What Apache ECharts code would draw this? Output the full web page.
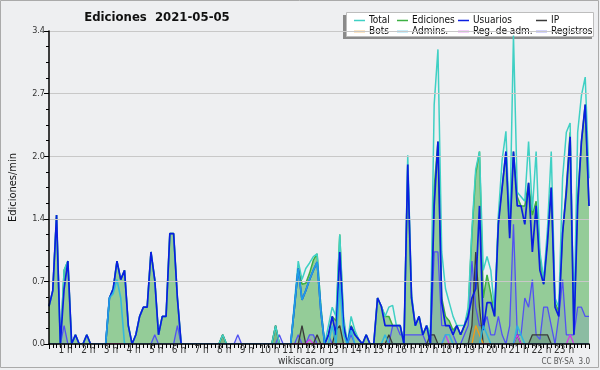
<!DOCTYPE html>
<html>
<head>
<meta charset="utf-8">
<script src="https://cdn.jsdelivr.net/npm/echarts@6/dist/echarts.min.js"></script>
<style>
  html, body { margin: 0; padding: 0; background: #fff; }
  #chart { width: 600px; height: 370px; }
</style>
</head>
<body>
<div id="chart"></div>
<script>
// one value every 10 minutes, 144 per day (rows = 2 hours)
const hourLabels = ['0 h','1 h','2 h','3 h','4 h','5 h','6 h','7 h','8 h','9 h','10 h','11 h','12 h',
  '13 h','14 h','15 h','16 h','17 h','18 h','19 h','20 h','21 h','22 h','23 h']
const yTicks = [0, 0.68, 1.36, 2.04, 2.72, 3.4]

const total = [
  0.41,0.58,1.4,0,0.8,0.9,0,0.1,0,0,0.1,0,
  0,0,0,0,0.5,0.6,0.9,0.7,0.8,0.2,0,0.1,
  0.3,0.4,0.4,1.0,0.7,0.1,0.3,0.3,1.2,1.2,0.5,0,
  0,0,0,0,0,0,0,0,0,0,0.1,0,
  0,0,0,0,0,0,0,0,0,0,0,0,
  0.2,0,0,0,0,0.45,0.9,0.7,0.82,0.88,0.95,0.98,
  0.4,0,0.2,0.4,0.3,1.19,0.3,0,0.3,0.15,0.05,0,
  0.1,0,0,0.5,0.41,0.3,0.4,0.42,0.2,0.2,0,2.05,
  0.55,0.2,0.3,0.1,0.2,0.1,2.6,3.2,1.0,0.6,0.45,0.3,
  0.2,0.2,0.2,0.4,1.25,1.9,2.09,0.8,0.95,0.8,0.35,1.4,
  2.0,2.31,1.25,3.35,1.65,1.6,1.55,2.2,1.45,2.09,1.0,0.7,
  1.25,2.09,0.5,0.4,1.8,2.3,2.4,0.2,2.3,2.7,2.9,1.8
]
const ediciones = [
  0.41,0.58,1.4,0,0.8,0.9,0,0.1,0,0,0.1,0,
  0,0,0,0,0.5,0.6,0.9,0.7,0.8,0.2,0,0.1,
  0.3,0.4,0.4,1.0,0.7,0.1,0.3,0.3,1.2,1.2,0.5,0,
  0,0,0,0,0,0,0,0,0,0,0.1,0,
  0,0,0,0,0,0,0,0,0,0,0,0,
  0.2,0,0,0,0,0.4,0.83,0.65,0.66,0.77,0.91,0.98,
  0.4,0,0.1,0.3,0.25,1.19,0.25,0,0.2,0.12,0.05,0,
  0.1,0,0,0.5,0.41,0.3,0.3,0.2,0.2,0.2,0,1.95,
  0.5,0.2,0.3,0.1,0.2,0.1,1.7,2.2,0.5,0.3,0.25,0.15,
  0.2,0.1,0.2,0.35,1.2,1.85,2.09,0.5,0.75,0.55,0.3,1.35,
  1.7,2.09,1.2,2.09,1.6,1.5,1.5,1.75,1.4,1.55,0.95,0.65,
  1.15,1.7,0.45,0.35,1.2,1.7,2.3,0.15,1.6,2.2,2.6,1.5
]
const usuarios = [
  0.41,0.58,1.4,0,0.6,0.9,0,0.1,0,0,0.1,0,
  0,0,0,0,0.5,0.6,0.9,0.7,0.8,0.2,0,0.1,
  0.3,0.4,0.4,1.0,0.7,0.1,0.3,0.3,1.2,1.2,0.5,0,
  0,0,0,0,0,0,0,0,0,0,0,0,
  0,0,0,0,0,0,0,0,0,0,0,0,
  0,0,0,0,0,0.4,0.82,0.48,0.58,0.7,0.8,0.89,
  0.35,0,0.1,0.3,0.1,1.0,0.2,0,0.19,0.1,0.05,0,
  0.1,0,0,0.5,0.41,0.2,0.2,0.2,0.2,0.2,0,1.95,
  0.5,0.2,0.3,0.1,0.2,0,1.5,2.2,0.45,0.2,0.2,0.1,
  0.2,0.1,0.2,0.3,0.5,0.6,1.5,0.15,0.45,0.45,0.3,1.3,
  1.7,2.09,1.15,2.09,1.5,1.5,1.3,1.75,1.0,1.5,0.8,0.65,
  1.1,1.7,0.4,0.3,1.2,1.65,2.25,0.1,1.5,2.2,2.6,1.5
]
const ip = [
  0,0,0,0,0,0,0,0,0,0,0,0,
  0,0,0,0,0,0,0,0,0,0,0,0,
  0,0,0,0,0,0,0,0,0,0,0,0,
  0,0,0,0,0,0,0,0,0,0,0.1,0,
  0,0,0,0,0,0,0,0,0,0,0,0,
  0.2,0,0,0,0,0,0,0.2,0,0,0,0.1,
  0,0,0,0,0.15,0.2,0,0,0,0,0,0,
  0,0,0,0,0,0,0.1,0,0,0,0,0,
  0,0,0,0,0,0.1,0.1,0,0,0,0,0,
  0,0,0,0,0.2,1.0,0.4,0,0,0,0,0,
  0,0,0,0,0.1,0,0,0,0.1,0.1,0.1,0.1,
  0.1,0,0,0,0,0,0,0,0,0,0,0
]
const bots = [
  0,0,0,0,0,0,0,0,0,0,0,0,
  0,0,0,0,0,0,0,0,0,0,0,0,
  0,0,0,0,0,0,0,0,0,0,0,0,
  0,0,0,0,0,0,0,0,0,0,0,0,
  0,0,0,0,0,0,0,0,0,0,0,0,
  0,0,0,0,0,0,0,0,0,0,0,0,
  0,0,0,0,0,0,0,0,0,0,0,0,
  0,0,0,0,0,0,0,0,0,0,0,0,
  0,0,0,0,0,0,0,0,0,0,0,0,
  0,0,0,0,0,0.2,0.1,0,0,0,0,0,
  0,0,0,0,0,0,0,0,0,0,0,0,
  0,0,0,0,0,0,0,0,0,0,0,0
]
const admins = [
  0,0,0,0,0,0,0,0,0,0,0,0,
  0,0,0,0,0.5,0.55,0.7,0.5,0,0,0,0,
  0,0,0,0,0,0,0,0,0,0,0,0,
  0,0,0,0,0,0,0,0,0,0,0,0,
  0,0,0,0,0,0,0,0,0,0,0,0,
  0,0,0,0,0,0.4,0.82,0.48,0.58,0.7,0.8,0.89,
  0.35,0,0,0.2,0,0.65,0.1,0,0.15,0,0,0,
  0,0,0,0,0,0.1,0,0,0,0,0,0,
  0,0,0,0,0,0,0,0,0,0.1,0.1,0,
  0,0,0,0,0,0,0,0.2,0.1,0,0,0,
  0,0,0,0,0.2,0.1,0,0,0,0,0,0,
  0,0,0,0,0,0,0,0,0,0,0,0
]
const regAdm = [
  0,0,0,0,0,0,0,0,0,0,0,0,
  0,0,0,0,0,0,0,0,0,0,0,0,
  0,0,0,0,0,0,0,0,0,0,0,0,
  0,0,0,0,0,0,0,0,0,0,0,0,
  0,0,0,0,0,0,0,0,0,0,0,0,
  0,0,0,0,0,0,0,0,0,0.05,0,0,
  0,0,0,0,0,0,0,0,0,0,0,0,
  0,0,0,0,0,0,0,0,0,0,0,0,
  0,0,0,0,0,0,0,0,0,0.1,0,0,
  0,0,0,0,0,0,0,0,0,0,0,0,
  0,0,0,0,0.1,0,0,0,0,0,0,0,
  0,0,0,0,0,0,0.1,0,0,0,0,0
]
const registros = [
  0,0,0,0,0.2,0,0,0,0,0,0,0,
  0,0,0,0,0,0,0,0,0,0,0,0,
  0,0,0,0,0.1,0,0,0,0,0,0.2,0,
  0,0,0,0,0,0,0,0,0,0,0,0,
  0,0,0.1,0,0,0,0,0,0,0,0,0,
  0,0.1,0,0,0,0,0.1,0,0,0.1,0.1,0,
  0,0,0.1,0,0,0,0,0,0.1,0,0,0,
  0,0,0,0,0,0,0,0.2,0.2,0.1,0.1,0.1,
  0.1,0.1,0.1,0.1,0,0,1.0,1.0,0.2,0.2,0.2,0.1,
  0,0,0.1,0.2,0.9,0.4,0.2,0.2,0.3,0.1,0.1,0.3,
  0.1,0,0.2,1.3,0.1,0.1,0.5,0.4,0.7,0.1,0.05,0.4,
  0.4,0.2,0,0.3,0.7,0.1,0.1,0.1,0.4,0.4,0.3,0.3
]

const font = "'DejaVu Sans Condensed', 'DejaVu Sans', sans-serif"
const pts = arr => arr.map((v, i) => [i, v])

const chart = echarts.init(document.getElementById('chart'))

function lineSeries(name, data, color, width, extra) {
  return Object.assign({
    name: name,
    type: 'line',
    data: pts(data),
    symbol: 'none',
    color: color,
    lineStyle: { color: color, width: width },
    animation: false
  }, extra || {})
}

function legendCol(left, names) {
  return {
    left: left, top: 10, orient: 'vertical',
    itemGap: 0, itemWidth: 11, itemHeight: 1.5, icon: 'rect',
    selectedMode: false,
    data: names,
    textStyle: { fontFamily: font, fontSize: 10, color: '#111', lineHeight: 11, padding: [0, 0, 0, -1] }
  }
}

let option = {
  backgroundColor: '#eeeff1',
  animation: false,
  title: {
    text: 'Ediciones  2021-05-05',
    left: 152, top: 6, textAlign: 'center',
    textStyle: { fontFamily: font, fontSize: 13, fontWeight: 'bold', color: '#111' }
  },
  legend: [
    legendCol(349, ['Total', 'Bots']),
    legendCol(392, ['Ediciones', 'Admins.']),
    legendCol(453, ['Usuarios', 'Reg. de adm.']),
    legendCol(531, ['IP', 'Registros'])
  ],
  graphic: [
    { type: 'rect', z: -10, silent: true, shape: { x: 0.5, y: 0.5, width: 598, height: 367 },
      style: { fill: 'none', stroke: '#aaaaaa', lineWidth: 1 } },
    { type: 'rect', z: 0, silent: true, shape: { x: 343, y: 15, width: 249, height: 24 },
      style: { fill: '#8a8a8a' } },
    { type: 'rect', z: 1, silent: true, shape: { x: 346.5, y: 12.5, width: 247, height: 24 },
      style: { fill: '#ffffff', stroke: '#bdbdbd', lineWidth: 1 } },
    { type: 'text', silent: true, left: 278, top: 356,
      style: { text: 'wikiscan.org', fontFamily: font, fontSize: 10, fill: '#333' } },
    { type: 'text', silent: true, right: 10, top: 358,
      style: { text: 'CC BY-SA  3.0', fontFamily: font, fontSize: 8, fill: '#555' } }
  ],
  grid: { left: 46, right: 11, top: 31, bottom: 26 },
  xAxis: {
    type: 'value', min: 0, max: ediciones.length - 1, interval: 6, z: 10,
    axisLine: { lineStyle: { color: '#000', width: 1.5 } },
    axisTick: { length: 5, lineStyle: { color: '#000' } },
    minorTick: { show: true, splitNumber: 6, length: 4, lineStyle: { color: '#000' } },
    splitLine: { show: false },
    axisLabel: {
      showMinLabel: false, showMaxLabel: false,
      fontFamily: font, fontSize: 10, color: '#333', margin: 1, padding: [0, 12, 0, 0],
      formatter: v => hourLabels[v / 6] || ''
    }
  },
  yAxis: {
    type: 'value', min: yTicks[0], max: yTicks[yTicks.length - 1], interval: yTicks[1], z: 10,
    name: 'Ediciones/min', nameLocation: 'middle', nameGap: 30,
    nameTextStyle: { fontFamily: font, fontSize: 11, color: '#111' },
    axisLine: { show: true, lineStyle: { color: '#000', width: 1.5 } },
    axisTick: { show: true, length: 5, lineStyle: { color: '#000' } },
    minorTick: { show: true, splitNumber: 4, length: 3, lineStyle: { color: '#000' } },
    splitLine: { lineStyle: { color: '#c8c8c8' } },
    axisLabel: { fontFamily: font, fontSize: 9, color: '#333', margin: 4, formatter: v => v.toFixed(1) }
  },
  series: [
    lineSeries('Ediciones', ediciones, '#3cb043', 1.5, { areaStyle: { color: '#94cc98', opacity: 1 } }),
    lineSeries('Registros', registros, '#5252f2', 1.3, { areaStyle: { color: 'rgba(80,80,230,0.18)' } }),
    lineSeries('IP', ip, '#3a3a3a', 1.3, { areaStyle: { color: 'rgba(0,40,0,0.2)' } }),
    lineSeries('Total', total, '#3fd0c4', 1.5),
    lineSeries('Bots', bots, '#f39a1a', 1.3),
    lineSeries('Reg. de adm.', regAdm, '#d23ce6', 1.3),
    lineSeries('Usuarios', usuarios, '#0a1ee0', 1.7),
    lineSeries('Admins.', admins, '#25b5e8', 1.6, { lineStyle: { color: '#25b5e8', width: 1.6, opacity: 0.85 } })
  ]
}
chart.setOption(option)
</script>
</body>
</html>
